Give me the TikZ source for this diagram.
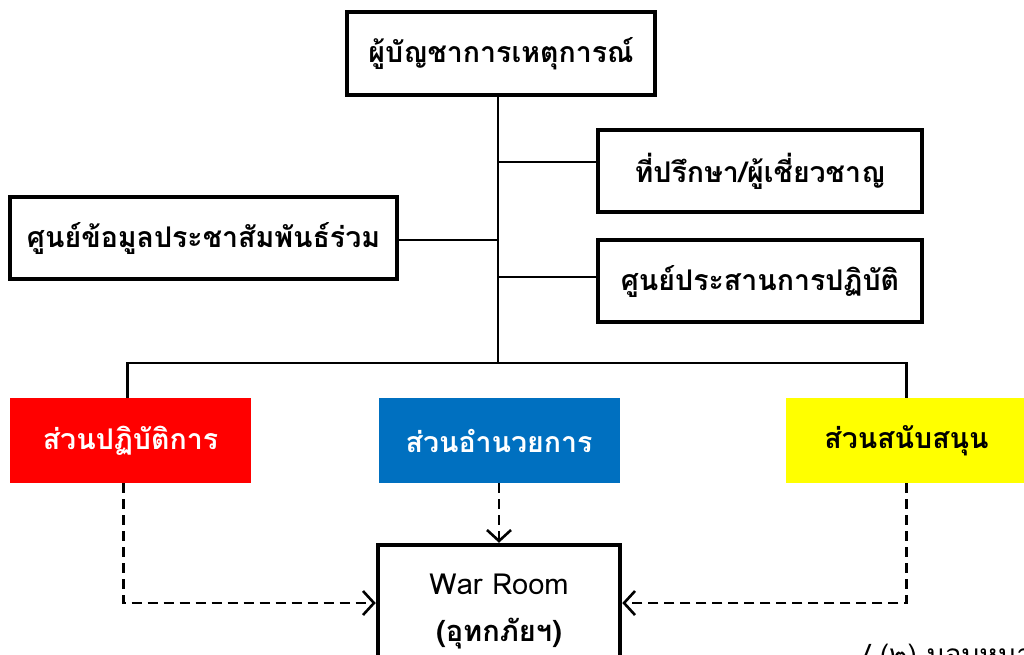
\documentclass[tikz,border=0pt]{standalone}
\usepackage{fontspec}
\setmainfont[Script=Thai]{Loma}
\usetikzlibrary{arrows.meta}

\definecolor{opsred}{RGB}{255,0,0}
\definecolor{cmdblue}{RGB}{0,112,192}
\definecolor{supyellow}{RGB}{255,255,0}

\begin{document}
\begin{tikzpicture}[x=1pt,y=-1pt,
  box/.style={draw=black, line width=4.5pt, fill=white, inner sep=0pt,
    font=\bfseries\fontsize{28.5}{32}\selectfont},
  part/.style={inner sep=0pt, minimum width=241, minimum height=85,
    font=\bfseries\fontsize{28.5}{32}\selectfont},
  link/.style={black, line width=2.6pt},
  dashlink/.style={black, line width=2.6pt, dash pattern=on 10pt off 6pt,
    -{Straight Barb[length=11pt,width=24pt]}}]
\useasboundingbox (0,0) rectangle (1024,654);
% boxes
\node [box, minimum width=308, minimum height=83] (commander) at (501,53.5) {ผู้บัญชาการเหตุการณ์};
\node [box, minimum width=324, minimum height=82] (advisor) at (760,171) {ที่ปรึกษา/ผู้เชี่ยวชาญ};
\node [box, minimum width=324, minimum height=82] (coordcenter) at (760,281) {ศูนย์ประสานการปฏิบัติ};
\node [box, minimum width=387, minimum height=82] (prcenter) at (203.5,238) {ศูนย์ข้อมูลประชาสัมพันธ์ร่วม};
\node [part, fill=opsred, text=white] (opssec) at (130.5,440.5) {ส่วนปฏิบัติการ};
\node [part, fill=cmdblue, text=white] (cmdsec) at (499,440.5) {ส่วนอำนวยการ};
\node [part, fill=supyellow, text=black] (supsec) at (906.5,440.5) {ส่วนสนับสนุน};
\node [box, minimum width=242, minimum height=134, align=center,
  font=\fontsize{29}{47}\selectfont] (warroom) at (499,612) {War Room\\\textbf{(อุทกภัยฯ)}};
\node [anchor=west, inner sep=0pt, font=\fontsize{28}{32}\selectfont] (note) at (862,657) {/ (๒) มอบหมาย};
% solid lines
\coordinate (trunkend) at (498,363);
\draw [link] (trunkend |- commander.south) -- (trunkend);
\draw [link] ([yshift=9pt]advisor.west) -- ([yshift=9pt]advisor.west -| trunkend);
\draw [link] ([yshift=4pt]coordcenter.west) -- ([yshift=4pt]coordcenter.west -| trunkend);
\draw [link] ([yshift=-2pt]prcenter.east) -- ([yshift=-2pt]prcenter.east -| trunkend);
\draw [link] ([xshift=-3pt]opssec.north) -- ([xshift=-3pt]opssec.north |- trunkend) -- (supsec.north |- trunkend) -- (supsec.north);
% dashed arrows
\draw [dashlink] ([xshift=-7pt]opssec.south) |- ([yshift=9pt]warroom.west);
\draw [dashlink] (cmdsec.south) -- (warroom.north);
\draw [dashlink] (supsec.south) |- ([yshift=9pt]warroom.east);
\end{tikzpicture}
\end{document}
